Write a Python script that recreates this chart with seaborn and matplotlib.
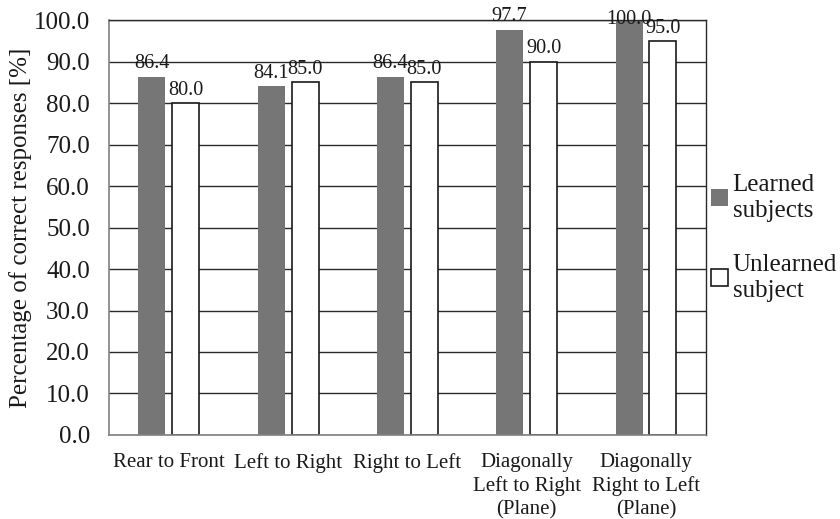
import matplotlib
matplotlib.use("Agg")
import matplotlib.pyplot as plt
import seaborn as sns
import pandas as pd

categories = [
    "Rear to Front",
    "Left to Right",
    "Right to Left",
    "Diagonally\nLeft to Right\n(Plane)",
    "Diagonally\nRight to Left\n(Plane)",
]
learned = [86.4, 84.1, 86.4, 97.7, 100.0]
unlearned = [80.0, 85.0, 85.0, 90.0, 95.0]
series_names = ["Learned\nsubjects", "Unlearned\nsubject"]
y_ticks = [0, 10, 20, 30, 40, 50, 60, 70, 80, 90, 100]

df = pd.DataFrame({
    "category": categories * 2,
    "value": learned + unlearned,
    "group": [series_names[0]] * len(categories) + [series_names[1]] * len(categories),
})

sns.set_theme(style="white")
plt.rcParams["font.family"] = ["Liberation Serif", "DejaVu Serif"]

fig = plt.figure(figsize=(8.4, 5.19), dpi=100)
ax = fig.add_axes([0.130, 0.162, 0.710, 0.799])

palette = {series_names[0]: "#767676", series_names[1]: "white"}
sns.barplot(data=df, x="category", y="value", hue="group", order=categories,
            hue_order=series_names, palette=palette, width=0.568, gap=0.204,
            saturation=1, ax=ax, legend=True)

edge_for = {series_names[0]: ("none", 0), series_names[1]: ("#1a1a1a", 1.2)}

# outline only the white bars, then label each bar with its value
for cont, name in zip(ax.containers, series_names):
    ec, lw = edge_for[name]
    for p in cont:
        p.set_edgecolor(ec)
        p.set_linewidth(lw)
    anns = ax.bar_label(cont, fmt="%.1f", padding=2.5, fontsize=14.6, color="#1a1a1a")
    for ann, p in zip(anns, cont):
        # keep a label on a full-height bar inside the figure
        if p.get_height() >= 99.5:
            ann.xyann = (0, -6)

ax.set_ylim(0, 100)
ax.set_yticks(y_ticks)
ax.set_yticklabels([f"{v:.1f}" for v in y_ticks], fontsize=18, color="#1a1a1a")
ax.set_xlim(-0.5, len(categories) - 0.5)
ax.tick_params(axis="x", labelsize=15, colors="#1a1a1a", length=0, pad=13)
ax.tick_params(axis="y", length=0, pad=14)
for lbl in ax.get_xticklabels():
    lbl.set_linespacing(1.28)
ax.set_xlabel("")
ax.set_ylabel("Percentage of correct responses [%]", fontsize=18, color="#1a1a1a", labelpad=1)

ax.yaxis.grid(True, color="#2a2a2a", linewidth=1.0)
ax.set_axisbelow(True)
for side in ["left", "bottom"]:
    ax.spines[side].set_color("#808080")
    ax.spines[side].set_linewidth(1.2)
for side in ["top", "right"]:
    ax.spines[side].set_color("#2a2a2a")
    ax.spines[side].set_linewidth(1.0)

handles, labels = ax.get_legend_handles_labels()
for h, name in zip(handles, labels):
    ec, lw = edge_for[name]
    h.set_edgecolor(ec)
    h.set_linewidth(lw)
ax.legend(handles, labels, frameon=False, loc="center left",
          bbox_to_anchor=(0.993, 0.475), fontsize=18, handlelength=0.65,
          handleheight=0.65, handletextpad=0.2, labelspacing=1.3,
          borderaxespad=0.0, labelcolor="#1a1a1a")

fig.savefig("out.png", dpi=100)
